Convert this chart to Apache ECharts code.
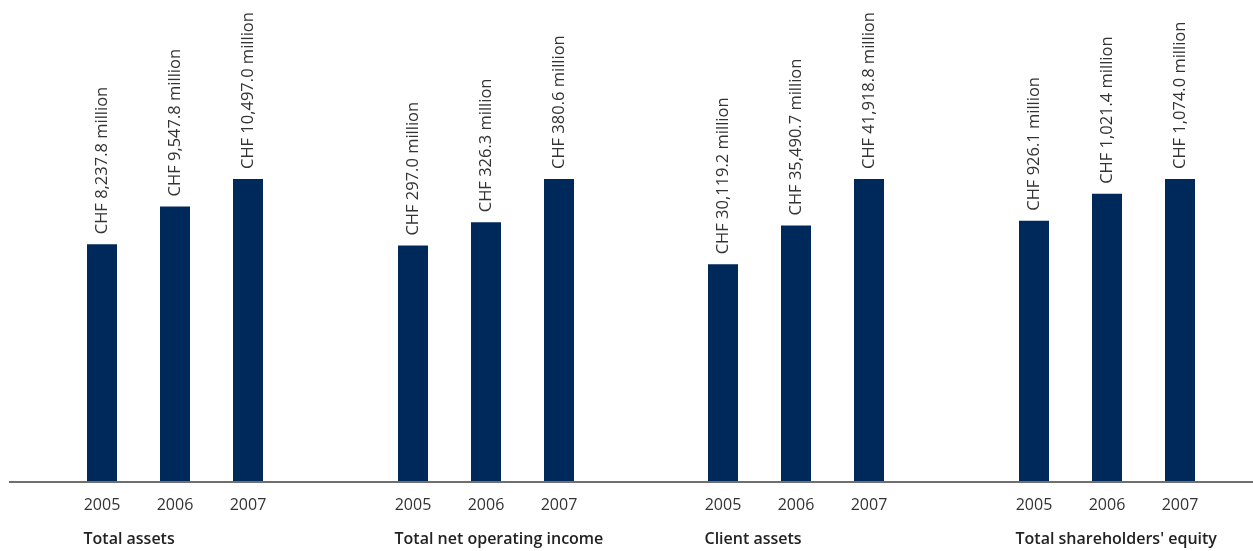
<!DOCTYPE html>
<html>
<head>
<meta charset="utf-8">
<script src="https://cdn.jsdelivr.net/npm/echarts@6/dist/echarts.min.js"></script>
<style>
  html, body { margin: 0; padding: 0; background: #ffffff; }
  #chart { width: 1253px; height: 551px; }
</style>
</head>
<body>
<div id="chart"></div>
<script>
// Key figures, CHF million, 2005–2007
const years = ['2005', '2006', '2007'];
const panelTitles = ['Total assets', 'Total net operating income', 'Client assets', "Total shareholders' equity"];
const totalAssets = [8237.8, 9547.8, 10497.0];
const netOperatingIncome = [297.0, 326.3, 380.6];
const clientAssets = [30119.2, 35490.7, 41918.8];
const shareholdersEquity = [926.1, 1021.4, 1074.0];

const panels = [totalAssets, netOperatingIncome, clientAssets, shareholdersEquity];

const FONT = '"Open Sans", "Noto Sans", sans-serif';
const BAR = '#00295b';
const TEXT = '#333333';

// each panel gets its own grid, scaled so its largest bar reaches the same height
const panelLeft = [65.5, 376.5, 686.5, 997.5];
const panelWidth = 219;
const gridTop = 179;
const gridBottom = 69;

function fmt(v) {
  return 'CHF ' + v.toLocaleString('en-US', { minimumFractionDigits: 1, maximumFractionDigits: 1 }) + ' million';
}

const grid = [], xAxis = [], yAxis = [], series = [], title = [];
panels.forEach((values, i) => {
  grid.push({ left: panelLeft[i], width: panelWidth, top: gridTop, bottom: gridBottom, containLabel: false });
  xAxis.push({
    type: 'category', gridIndex: i, data: years,
    axisLine: { show: false }, axisTick: { show: false },
    axisLabel: { color: TEXT, fontFamily: FONT, fontSize: 16, margin: 15 }
  });
  yAxis.push({ type: 'value', gridIndex: i, min: 0, max: 'dataMax', show: false });
  series.push({
    type: 'bar', xAxisIndex: i, yAxisIndex: i, data: values, barWidth: 30,
    itemStyle: { color: BAR },
    label: {
      show: true, position: 'top', rotate: 90, align: 'left', verticalAlign: 'middle',
      distance: 10, color: TEXT, fontFamily: FONT, fontSize: 16.5,
      formatter: p => fmt(p.value)
    },
    silent: true, animation: false
  });
  title.push({
    text: panelTitles[i], left: panelLeft[i] + 18, top: 531, padding: 0,
    textStyle: { color: '#222222', fontFamily: FONT, fontSize: 16, fontWeight: 600 }
  });
});

const chart = echarts.init(document.getElementById('chart'), null, { renderer: 'canvas' });
chart.setOption({
  animation: false,
  backgroundColor: '#ffffff',
  title, grid, xAxis, yAxis, series,
  graphic: [{
    type: 'line', z: 10,
    shape: { x1: 9, y1: 482, x2: 1253, y2: 482 },
    style: { stroke: '#6f6f6f', lineWidth: 2 }
  }]
});
</script>
</body>
</html>
